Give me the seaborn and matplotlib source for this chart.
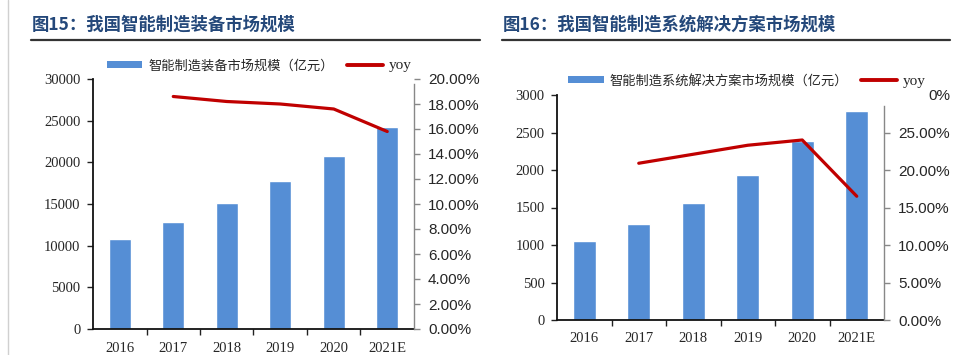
import numpy as np
import pandas as pd
import seaborn as sns
import matplotlib.pyplot as plt
from matplotlib.patches import Patch
from matplotlib.lines import Line2D
from matplotlib.transforms import ScaledTranslation

# data
years = ["2016", "2017", "2018", "2019", "2020", "2021E"]
equip_size = [10750, 12800, 15080, 17800, 20800, 24200]
equip_yoy = [np.nan, 0.186, 0.182, 0.180, 0.176, 0.158]
sys_size = [1060, 1280, 1556, 1933, 2382, 2790]
sys_yoy = [np.nan, 0.209, 0.221, 0.233, 0.240, 0.165]

title_left = "图15：我国智能制造装备市场规模"
title_right = "图16：我国智能制造系统解决方案市场规模"
bar_label_left = "智能制造装备市场规模（亿元）"
bar_label_right = "智能制造系统解决方案市场规模（亿元）"
line_label = "yoy"

BAR = "#558ed5"
RED = "#c00000"
TITLE = "#24487a"

sns.set_theme(style="white")
plt.rcParams["font.family"] = ["Liberation Serif", "Noto Sans CJK SC", "DejaVu Sans"]
plt.rcParams["axes.unicode_minus"] = False

fig = plt.figure(figsize=(9.6, 3.55), dpi=100)


def draw_panel(rect, sizes, yoy, ymax, ystep, pmax, pstep, pbound, top_label):
    df = pd.DataFrame({"year": years, "size": sizes, "yoy": yoy})
    df["pos"] = df.index
    ax = fig.add_axes(rect)
    sns.barplot(data=df, x="year", y="size", color=BAR, width=0.42,
                saturation=1, ax=ax)
    ax.set_xlim(-0.5, len(years) - 0.5)
    ax.set_ylim(0, ymax)
    ax.set_yticks(np.arange(0, ymax + 1, ystep))
    ax.set_xlabel("")
    ax.set_ylabel("")
    # ticks between categories
    ax.set_xticks(np.arange(0.5, len(years) - 1, 1), minor=True)
    ax.tick_params(axis="x", which="major", length=0, pad=9, labelsize=10.5)
    ax.tick_params(axis="x", which="minor", length=4, width=1, color="#222222",
                   direction="out", bottom=True)
    ax.tick_params(axis="y", length=4, width=1, color="#222222", direction="out",
                   left=True, pad=5, labelsize=10.5)
    for s in ["top", "right"]:
        ax.spines[s].set_visible(False)
    for s in ["left", "bottom"]:
        ax.spines[s].set_color("#111111")
        ax.spines[s].set_linewidth(1.3)

    ax2 = ax.twinx()
    sns.lineplot(data=df.dropna(), x="pos", y="yoy", color=RED, linewidth=2.3,
                 ax=ax2, legend=False)
    ax2.set_ylim(0, pmax)
    ticks = np.arange(0, pmax + 1e-9, pstep)
    ax2.set_yticks(ticks)
    labels = [f"{t * 100:.2f}%" for t in ticks]
    if top_label is not None:
        labels[-1] = top_label
    ax2.set_yticklabels(labels, family=["Liberation Sans", "DejaVu Sans"], fontsize=11)
    ax2.set_xlabel("")
    ax2.set_ylabel("")
    ax2.tick_params(axis="y", length=4, width=1, color="#888888", direction="out",
                    right=True, pad=6)
    if top_label is not None:
        top_tick = ax2.yaxis.get_major_ticks()[-1]
        top_tick.tick2line.set_visible(False)
        # the top label is only the visible tail of a longer label
        lab = top_tick.label2
        lab.set_transform(lab.get_transform() + ScaledTranslation(0.3, 0, fig.dpi_scale_trans))
    for s in ["top", "left", "bottom"]:
        ax2.spines[s].set_visible(False)
    ax2.spines["right"].set_color("#888888")
    ax2.spines["right"].set_linewidth(1)
    ax2.spines["right"].set_bounds(0, pbound)
    ax2.set_xlim(-0.5, len(years) - 0.5)
    return ax, ax2


draw_panel([93 / 960, 1 - 329 / 355, 321 / 960, 250 / 355],
           equip_size, equip_yoy, 30000, 5000, 0.20, 0.02, 0.196, None)
draw_panel([557 / 960, 1 - 320 / 355, 327 / 960, 225 / 355],
           sys_size, sys_yoy, 3000, 500, 0.30, 0.05, 0.285, "0%")

# titles and rules
fig.text(32 / 960, 1 - 25 / 355, title_left, fontsize=12.5, fontweight="bold",
         color=TITLE, va="center", ha="left", family=["Noto Sans CJK SC"])
fig.text(503 / 960, 1 - 25 / 355, title_right, fontsize=12.5, fontweight="bold",
         color=TITLE, va="center", ha="left", family=["Noto Sans CJK SC"])
fig.add_artist(Line2D([31 / 960, 480 / 960], [1 - 40 / 355] * 2, color="#333333", lw=1.6))
fig.add_artist(Line2D([502 / 960, 950 / 960], [1 - 40 / 355] * 2, color="#333333", lw=1.6))
fig.add_artist(Line2D([8 / 960, 8 / 960], [0, 1], color="#d0d0d0", lw=1))

# legends
for label, cx, cy in [(bar_label_left, 259 / 960, 1 - 66 / 355),
                      (bar_label_right, 747 / 960, 1 - 81 / 355)]:
    handles = [Patch(facecolor=BAR, edgecolor="none", label=label),
               Line2D([], [], color=RED, lw=2.8, label=line_label)]
    leg = fig.legend(handles=handles, loc="center", bbox_to_anchor=(cx, cy), ncol=2,
                     frameon=False, handlelength=2.7, handleheight=0.45,
                     handletextpad=0.45, columnspacing=1.0, borderpad=0, borderaxespad=0,
                     prop={"family": ["Liberation Serif", "Noto Sans CJK SC"], "size": 9.5})
    leg.get_texts()[1].set_fontsize(11)

fig.savefig("out.png", dpi=100)
